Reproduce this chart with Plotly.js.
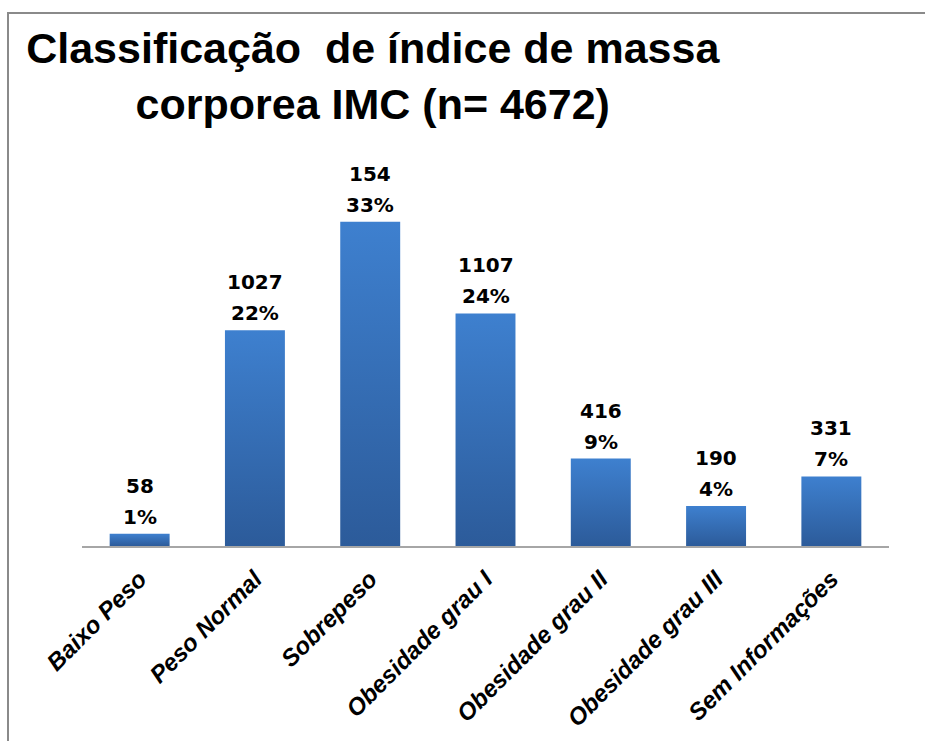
<!DOCTYPE html>
<html>
<head>
<meta charset="utf-8">
<script src="https://cdn.plot.ly/plotly-3.0.1.min.js"></script>
<style>
html,body{margin:0;padding:0;background:#fff;}
#chart{width:925px;height:741px;}
</style>
</head>
<body>
<div id="chart"></div>
<script>
const categories = ['Baixo Peso','Peso Normal','Sobrepeso','Obesidade grau I','Obesidade grau II','Obesidade grau III','Sem Informações'];
const counts = [58, 1027, 1543, 1107, 416, 190, 331];
const countLabels = ['58','1027','154','1107','416','190','331'];
const percentLabels = ['1%','22%','33%','24%','9%','4%','7%'];
const titleText = 'Classificação\u00a0 de índice de massa<br>corporea IMC (n= 4672)';

const labelFont = {family:'DejaVu Sans, Verdana, sans-serif', size:20, color:'#000', weight:'bold'};

const annotations = [];
categories.forEach((c,i)=>{
  annotations.push({x:c, y:counts[i], xref:'x', yref:'y', text:countLabels[i], showarrow:false,
    yanchor:'middle', yshift:48, font:labelFont});
  annotations.push({x:c, y:counts[i], xref:'x', yref:'y', text:percentLabels[i], showarrow:false,
    yanchor:'middle', yshift:17, font:labelFont});
});

const trace = {
  type:'bar',
  x: categories,
  y: counts,
  marker:{color:'#3670b8', line:{width:0}},
  hoverinfo:'none'
};

const layout = {
  width:925, height:741,
  margin:{l:82, r:36, t:150, b:195, pad:0},
  paper_bgcolor:'#ffffff', plot_bgcolor:'#ffffff',
  showlegend:false,
  bargap:0.48,
  title:{text:titleText, xref:'container', yref:'container', x:0.403, xanchor:'center',
    y:1-63/741, yanchor:'top',
    font:{family:'Liberation Sans, Arial, sans-serif', size:43, color:'#000', weight:'bold'}},
  xaxis:{type:'category', range:[-0.5,6.5], showline:true, linecolor:'#a6a6a6', linewidth:1.5,
    showgrid:false, zeroline:false, ticks:'', tickangle:-45, ticklabelstandoff:8,
    tickfont:{family:'Liberation Sans, Arial, sans-serif', size:24, color:'#000', weight:'bold', style:'italic'}},
  yaxis:{range:[0,1885], visible:false, showgrid:false, zeroline:false, fixedrange:true},
  annotations: annotations,
  shapes:[
    {type:'line', xref:'paper', yref:'paper', x0:(8-82)/807, x1:(8-82)/807, y0:(546-760)/396, y1:(546-13)/396,
      line:{color:'#8a8a8a', width:2}},
    {type:'line', xref:'paper', yref:'paper', x0:(7-82)/807, x1:(940-82)/807, y0:(546-13)/396, y1:(546-13)/396,
      line:{color:'#8a8a8a', width:2}}
  ]
};

Plotly.newPlot('chart', [trace], layout, {displayModeBar:false, staticPlot:true}).then(gd=>{
  const svg = gd.querySelector('.main-svg');
  const ns = 'http://www.w3.org/2000/svg';
  let defs = svg.querySelector('defs');
  if(!defs){ defs = document.createElementNS(ns,'defs'); svg.insertBefore(defs, svg.firstChild); }
  const g = document.createElementNS(ns,'linearGradient');
  g.setAttribute('id','barGrad'); g.setAttribute('x1','0'); g.setAttribute('y1','0');
  g.setAttribute('x2','0'); g.setAttribute('y2','1');
  [['0%','#3e80cf'],['100%','#2c5b9a']].forEach(s=>{
    const st = document.createElementNS(ns,'stop');
    st.setAttribute('offset',s[0]); st.setAttribute('stop-color',s[1]);
    g.appendChild(st);
  });
  defs.appendChild(g);
  gd.querySelectorAll('.bars .point path').forEach(p=>{ p.style.fill='url(#barGrad)'; });
});
</script>
</body>
</html>
